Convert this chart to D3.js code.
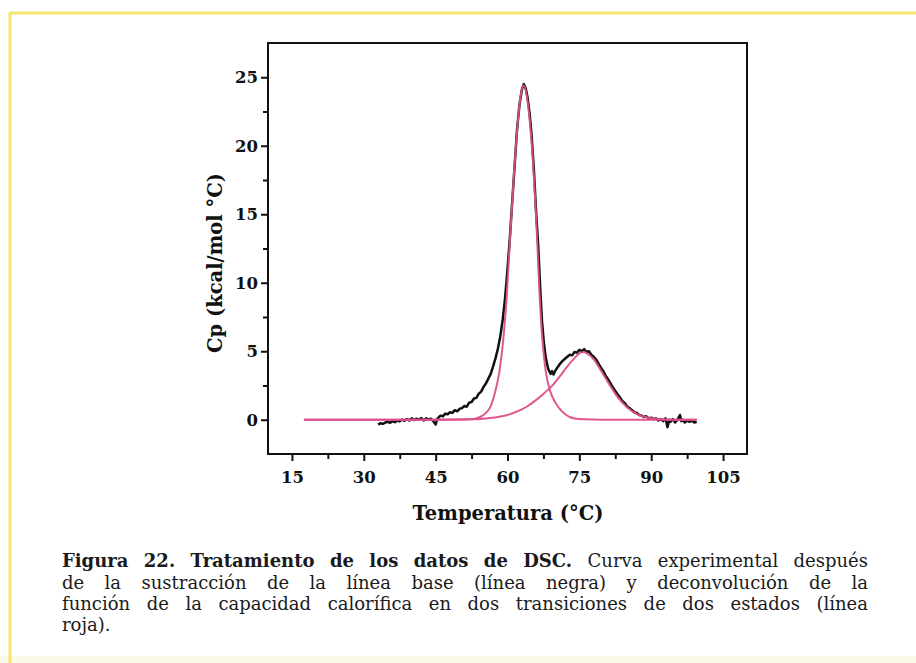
<!DOCTYPE html>
<html><head><meta charset="utf-8">
<script src="https://cdn.jsdelivr.net/npm/d3@7"></script>
<style>body{margin:0;background:#fff} svg{display:block}</style>
</head><body><svg id="c" width="916" height="663"></svg>
<script>
// ---- data ----
const expT  = [33.0,33.5,34.0,34.5,35.0,35.5,36.0,36.5,37.0,37.5,38.0,38.5,39.0,39.5,40.0,40.5,41.0,41.5,42.0,42.5,43.0,43.5,44.0,44.5,45.0,45.3,45.5,46.0,46.5,47.0,47.5,48.0,48.5,49.0,49.5,50.0,50.5,51.0,51.5,52.0,52.5,53.0,53.5,54.0,54.5,55.0,55.5,56.0,56.5,57.0,57.5,58.0,58.5,59.0,59.5,60.0,60.5,61.0,61.5,62.0,62.5,63.0,63.4,63.8,64.2,64.6,65.0,65.5,66.0,66.4,66.8,67.2,67.6,68.0,68.5,69.0,69.3,69.6,70.0,70.5,71.0,71.5,72.0,72.5,73.0,73.5,74.0,74.5,75.0,75.5,76.0,76.5,77.0,77.5,78.0,78.5,79.0,79.5,80.0,80.5,81.0,81.5,82.0,82.5,83.0,83.5,84.0,84.5,85.0,85.5,86.0,86.5,87.0,87.5,88.0,88.5,89.0,89.5,90.0,90.5,91.0,91.5,92.0,92.5,93.0,93.4,93.8,94.0,94.5,95.0,95.5,96.0,96.3,96.5,97.0,97.5,98.0,98.5,99.0,99.5];
const expCp = [-0.35,-0.25,-0.30,-0.20,-0.15,-0.22,-0.10,-0.18,-0.05,-0.12,0.02,-0.08,0.05,-0.05,0.10,-0.02,0.08,0.00,0.12,-0.05,0.10,0.02,0.08,-0.10,-0.35,0.05,0.12,0.30,0.25,0.45,0.40,0.55,0.50,0.70,0.62,0.80,0.85,1.00,0.95,1.25,1.30,1.55,1.60,1.90,2.05,2.40,2.65,3.00,3.35,3.90,4.50,5.20,6.10,7.30,8.90,11.0,13.3,16.0,18.6,21.2,23.0,24.1,24.5,24.2,23.5,22.4,20.9,18.3,15.0,12.8,9.8,7.2,5.6,4.5,3.7,3.35,3.55,3.30,3.60,3.85,4.10,4.30,4.45,4.60,4.75,4.70,4.95,4.90,5.10,5.00,5.15,4.95,5.00,4.75,4.60,4.40,4.10,3.80,3.55,3.20,2.95,2.65,2.35,2.10,1.85,1.60,1.35,1.20,0.95,0.85,0.70,0.55,0.50,0.35,0.30,0.20,0.25,0.10,0.15,0.05,0.10,-0.05,0.05,-0.10,0.10,-0.55,0.00,-0.15,0.05,-0.20,0.00,0.35,-0.10,0.00,-0.20,-0.05,-0.15,-0.05,-0.20,-0.15];

const fit1T  = [17.5,30,40,48,50,52,53,54.3,55.5,56.5,57.4,58.3,59.1,59.8,60.5,61.4,62.2,62.8,63.4,64.0,64.6,65.2,65.8,66.2,66.6,67.0,67.5,68.0,69.0,70.0,71.0,72.0,73.0,74.0,76.0,80.0,90.0,99.5];
const fit1Cp = [0,0,0,0,0.01,0.03,0.06,0.2,0.5,1.0,2.0,3.5,5.8,8.8,13.1,18.2,21.9,23.8,24.4,23.7,22.0,19.5,16.0,13.1,9.8,7.2,5.0,3.5,2.0,1.25,0.75,0.42,0.2,0.09,0.03,0,0,0];

const fit2T  = [17.5,30,40,48,52,55,58,60,62,64,66,68,69.5,71,72.5,74,75,75.8,76.6,78,79.5,81.4,83,85,87,89,91,93,95,99.5];
const fit2Cp = [0,0,0,0.01,0.03,0.08,0.2,0.35,0.6,0.95,1.45,2.05,2.55,3.2,3.9,4.5,4.85,4.95,4.85,4.4,3.6,2.5,1.65,0.9,0.42,0.18,0.07,0.02,0,0];

const xTicks = [15,30,45,60,75,90,105];
const xMinor = [22.5,37.5,52.5,67.5,82.5,97.5];
const yTicks = [0,5,10,15,20,25];
const yMinor = [2.5,7.5,12.5,17.5,22.5];

const xTitle = "Temperatura (°C)";
const yTitle = "Cp (kcal/mol °C)";
const captionLines = [
  [["Figura 22. Tratamiento de los datos de DSC.", true], ["Curva experimental después", false]],
  [["de la sustracción de la línea base (línea negra) y deconvolución de la", false]],
  [["función de la capacidad calorífica en dos transiciones de dos estados (línea", false]],
  [["roja).", false]]
];

// ---- drawing ----
const svg = d3.select("#c");
const W = 916, H = 663;
const M = {l:268, r:747, t:43, b:454};
const x = d3.scaleLinear([10,110],[M.l,M.r]);
const y = d3.scaleLinear([-2.5,27.5],[M.b,M.t]);

// frame
svg.append("rect").attr("x",0).attr("y",656).attr("width",W).attr("height",7).attr("fill","#fdf9e8");
svg.append("line").attr("x1",10).attr("x2",W).attr("y1",13).attr("y2",13).attr("stroke","#f4e46c").attr("stroke-width",3);
svg.append("line").attr("x1",10).attr("x2",10).attr("y1",12).attr("y2",H).attr("stroke","#f4e46c").attr("stroke-width",3);

const serif = "'DejaVu Serif', serif";

// axes
const xAxis = d3.axisBottom(x).tickValues(xTicks).tickSize(7).tickSizeOuter(0).tickFormat(d3.format("d"));
const xAxisMinor = d3.axisBottom(x).tickValues(xMinor).tickSize(5).tickSizeOuter(0).tickFormat("");
const yAxis = d3.axisLeft(y).tickValues(yTicks).tickSize(7).tickSizeOuter(0).tickFormat(d3.format("d"));
const yAxisMinor = d3.axisLeft(y).tickValues(yMinor).tickSize(5).tickSizeOuter(0).tickFormat("");

function styleAxis(g){
  g.select(".domain").remove();
  g.selectAll(".tick line").attr("stroke","#111").attr("stroke-width",2);
  g.selectAll(".tick text").attr("fill","#111").style("font-family",serif).style("font-weight","bold").style("font-size","16.5px");
}
svg.append("g").attr("transform",`translate(0,${M.b})`).call(xAxis).call(styleAxis)
  .selectAll(".tick text").attr("dy","0").attr("y",29);
svg.append("g").attr("transform",`translate(0,${M.b})`).call(xAxisMinor).call(styleAxis);
svg.append("g").attr("transform",`translate(${M.l},0)`).call(yAxis).call(styleAxis)
  .selectAll(".tick text").attr("x",-10);
svg.append("g").attr("transform",`translate(${M.l},0)`).call(yAxisMinor).call(styleAxis);

svg.append("rect").attr("x",M.l).attr("y",M.t).attr("width",M.r-M.l).attr("height",M.b-M.t)
  .attr("fill","none").attr("stroke","#111").attr("stroke-width",2);

// curves
const lineLin = d3.line().x(d=>x(d[0])).y(d=>y(d[1]));
const lineSmooth = d3.line().x(d=>x(d[0])).y(d=>y(d[1])).curve(d3.curveMonotoneX);
const expData = expT.map((t,i)=>[t,expCp[i]]);
const fit1 = fit1T.map((t,i)=>[t,fit1Cp[i]]);
const fit2 = fit2T.map((t,i)=>[t,fit2Cp[i]]);

svg.append("path").datum(expData).attr("d",lineLin).attr("fill","none")
  .attr("stroke","#111").attr("stroke-width",2.5).attr("stroke-linejoin","round");
[fit1,fit2].forEach(f=>{
  svg.append("path").datum(f).attr("d",lineSmooth).attr("fill","none")
    .attr("stroke","#dc5089").attr("stroke-width",2).attr("stroke-opacity",0.95);
});

// titles
svg.append("text").attr("x",508).attr("y",520).attr("text-anchor","middle")
  .style("font-family",serif).style("font-weight","bold").style("font-size","19.5px").attr("fill","#111").text(xTitle);
svg.append("text").attr("transform",`translate(222,263) rotate(-90)`).attr("text-anchor","middle")
  .style("font-family",serif).style("font-weight","bold").style("font-size","19.5px").attr("fill","#111").text(yTitle);

// caption, justified
const capX0 = 62, capX1 = 868, baselines = [567,589,610,631];
captionLines.forEach((segs, li)=>{
  const words = [];
  segs.forEach(([s,b])=> s.split(" ").forEach(w=>words.push({w,b})));
  const nodes = words.map(o=> svg.append("text").attr("y",baselines[li])
     .style("font-family",serif).style("font-size","18px").style("font-weight",o.b?"bold":"normal")
     .attr("fill","#1a1a1a").text(o.w));
  const widths = nodes.map(n=>n.node().getComputedTextLength());
  const total = d3.sum(widths);
  const justify = li < captionLines.length-1;
  const gap = justify ? (capX1-capX0-total)/(words.length-1) : 5;
  let cx = capX0;
  nodes.forEach((n,i)=>{ n.attr("x",cx); cx += widths[i] + gap; });
});
</script></body></html>
